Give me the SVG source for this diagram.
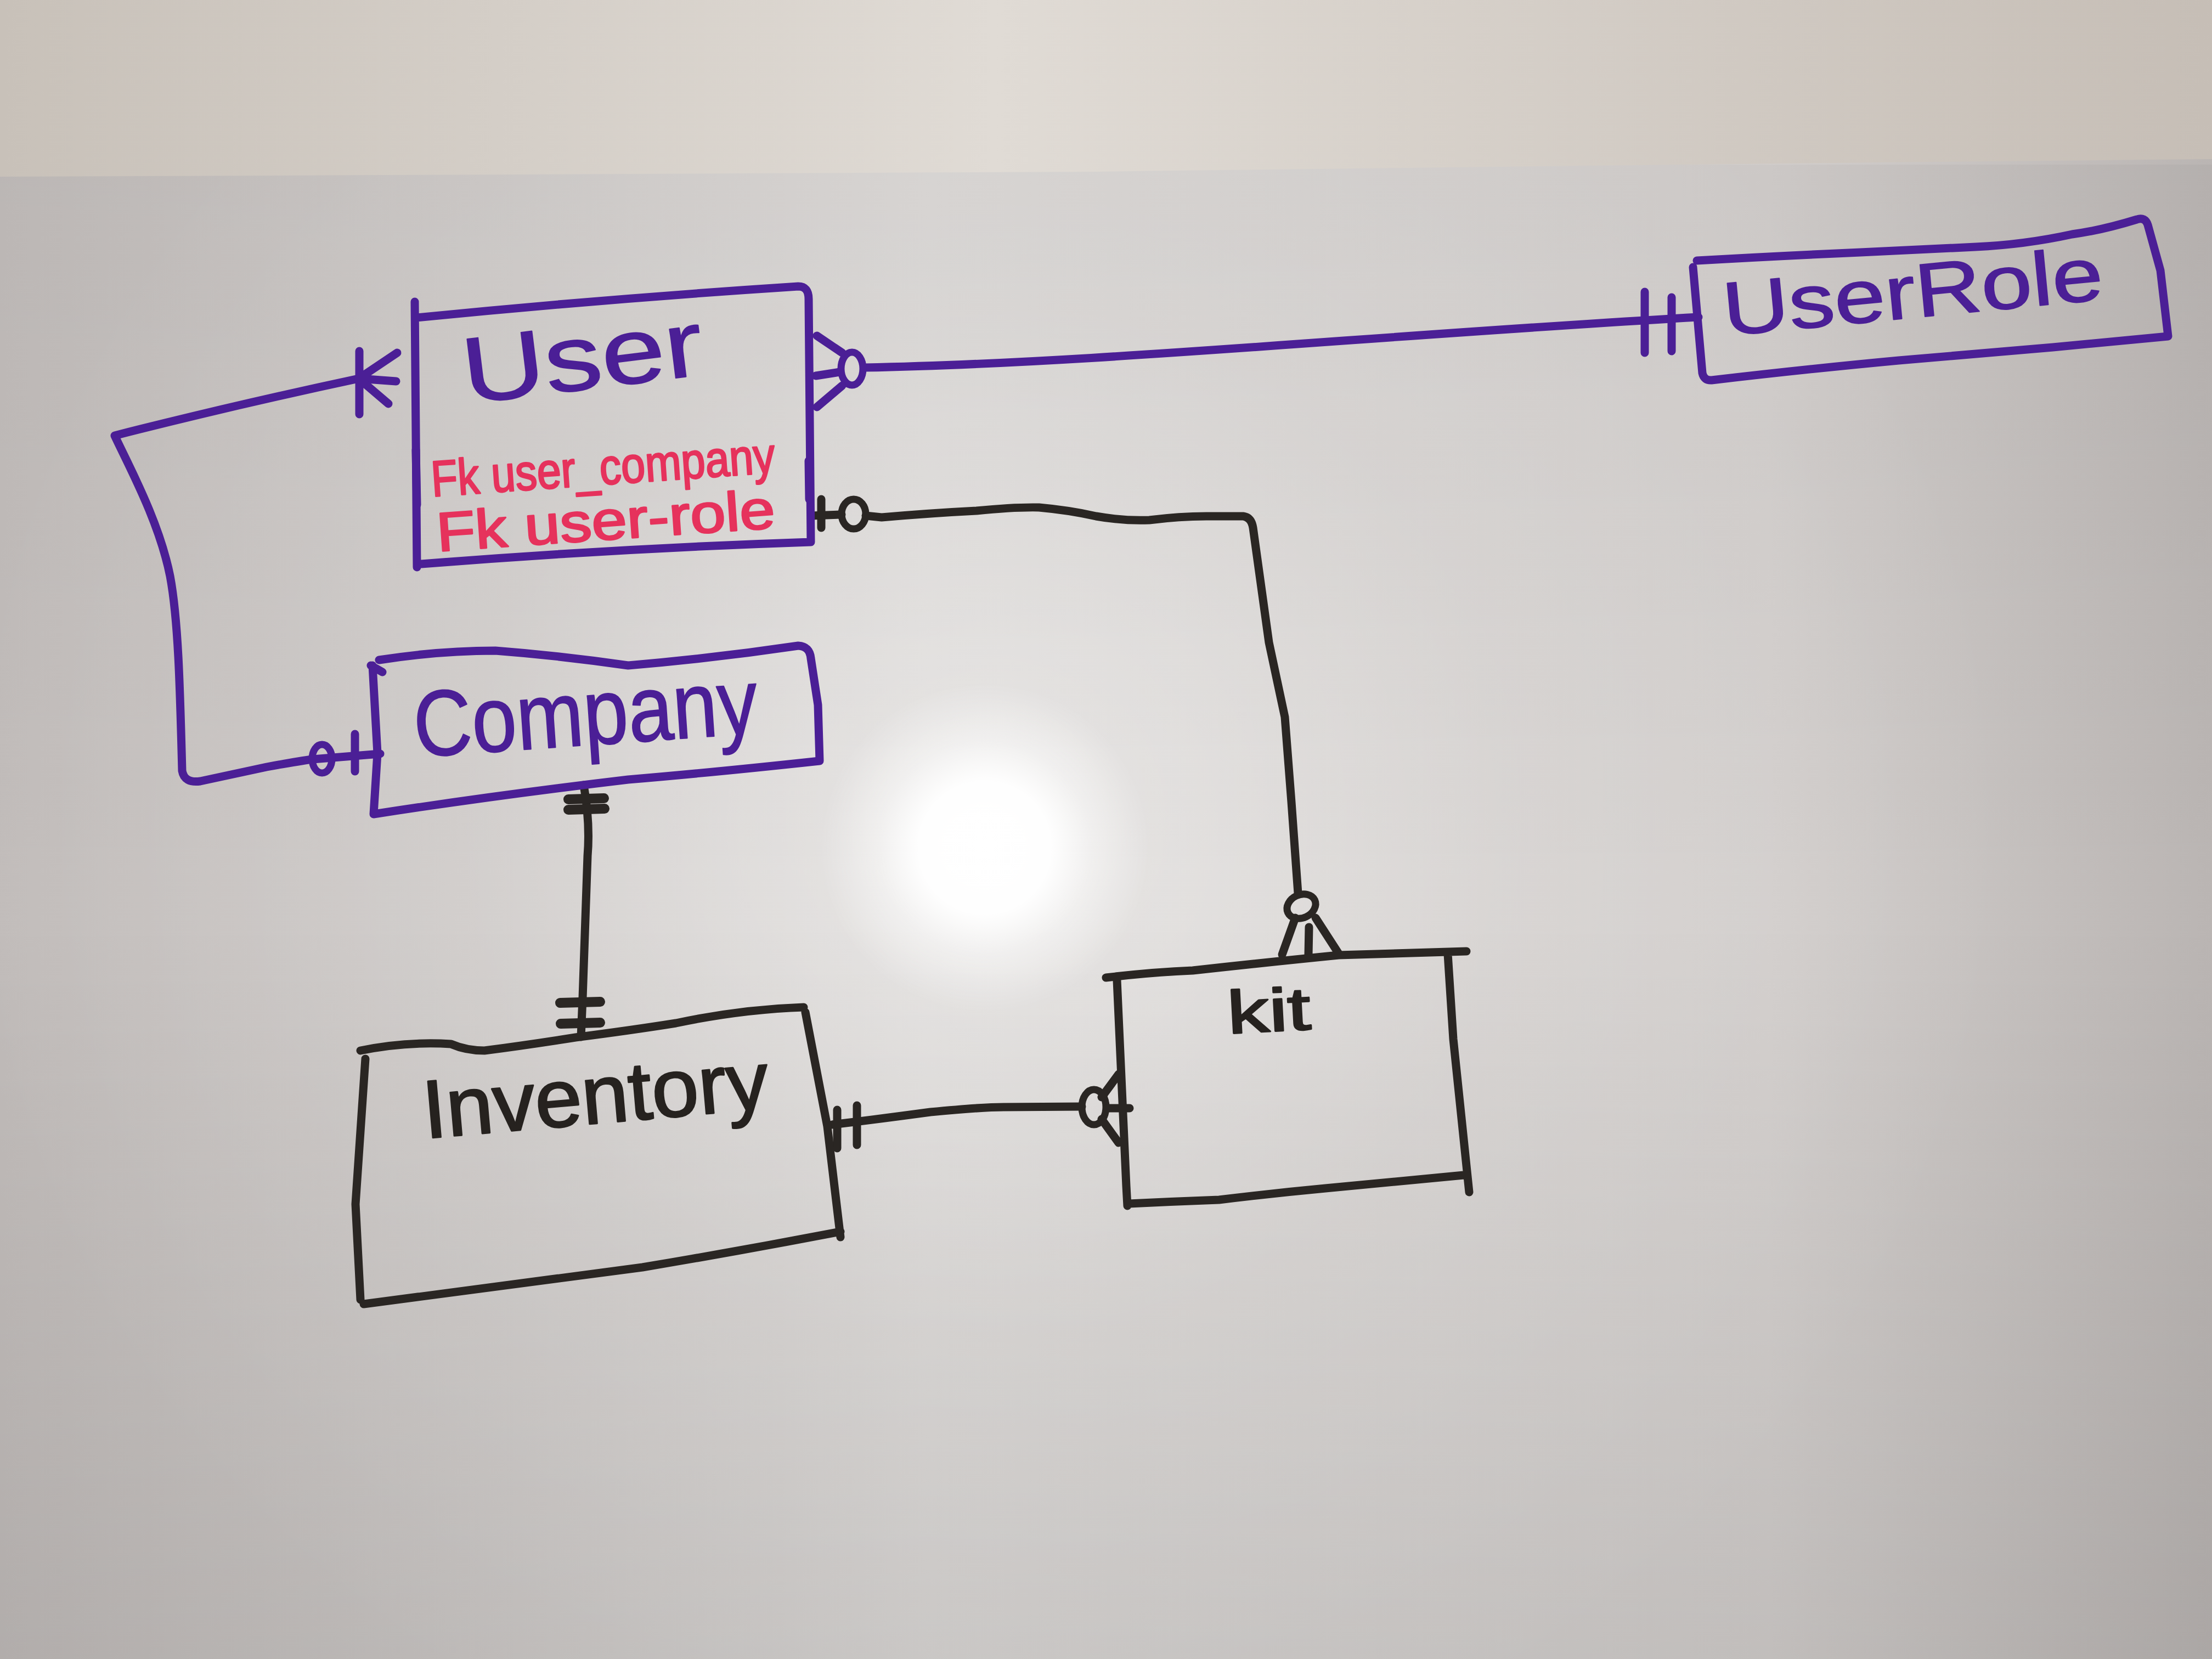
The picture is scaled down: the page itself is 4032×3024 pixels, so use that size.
<svg xmlns="http://www.w3.org/2000/svg" width="4032" height="3024" viewBox="0 0 4032 3024">
<defs>
<style>
.pu{fill:none;stroke:#4b1f96;stroke-width:15;stroke-linecap:round;stroke-linejoin:round}
.bk{fill:none;stroke:#2a2623;stroke-width:15;stroke-linecap:round;stroke-linejoin:round}
.bkt{fill:none;stroke:#2a2623;stroke-width:18;stroke-linecap:round}
.circ{fill:none;stroke-width:13}
.lbl{font-family:"Liberation Sans","DejaVu Sans",Arial,sans-serif;stroke-linejoin:round}
.tp{fill:#4b1f96;stroke:#4b1f96;stroke-width:2}
.tb{fill:#26221f;stroke:#26221f;stroke-width:3}
.tr{fill:#e6325c;stroke:#e6325c;stroke-width:3}
</style>
<linearGradient id="wallH" x1="0" y1="0" x2="1" y2="0">
<stop offset="0" stop-color="#c8c1b9"/>
<stop offset="0.45" stop-color="#e0dbd5"/>
<stop offset="1" stop-color="#c6beb6"/>
</linearGradient>
<linearGradient id="boardH" x1="0" y1="0" x2="1" y2="0">
<stop offset="0" stop-color="#c1bcba"/>
<stop offset="0.42" stop-color="#dad7d5"/>
<stop offset="0.8" stop-color="#d2cecc"/>
<stop offset="1" stop-color="#bab5b3"/>
</linearGradient>
<radialGradient id="boardR" cx="1800" cy="1500" r="1900" gradientUnits="userSpaceOnUse">
<stop offset="0" stop-color="#ffffff" stop-opacity="0.4"/>
<stop offset="0.5" stop-color="#ffffff" stop-opacity="0.1"/>
<stop offset="1" stop-color="#ffffff" stop-opacity="0"/>
</radialGradient>
<linearGradient id="boardV" x1="0" y1="0" x2="0" y2="1">
<stop offset="0" stop-color="#000000" stop-opacity="0.03"/>
<stop offset="0.5" stop-color="#000000" stop-opacity="0"/>
<stop offset="1" stop-color="#000000" stop-opacity="0.08"/>
</linearGradient>
<radialGradient id="glare" cx="1795" cy="1545" r="300" gradientUnits="userSpaceOnUse">
<stop offset="0" stop-color="#ffffff" stop-opacity="1"/>
<stop offset="0.4" stop-color="#ffffff" stop-opacity="0.97"/>
<stop offset="0.65" stop-color="#ffffff" stop-opacity="0.45"/>
<stop offset="1" stop-color="#ffffff" stop-opacity="0"/>
</radialGradient>
</defs>

<g id="background">
<rect x="0" y="0" width="4032" height="3024" fill="url(#boardH)"/>
<rect x="0" y="0" width="4032" height="3024" fill="url(#boardR)"/>
<rect x="0" y="300" width="4032" height="2724" fill="url(#boardV)"/>
<circle cx="1795" cy="1545" r="300" fill="url(#glare)"/>
<path d="M0,0 H4032 V290 Q3000,300 2000,313 Q1000,318 0,322 Z" fill="url(#wallH)"/>
</g>

<g id="connectors">
<g id="c-user-userrole">
<path class="pu" d="M1576,670 C2000,662 2500,612 3096,578"/>
<path class="pu" d="M2998,532 L2998,643 M3047,542 L3047,640"/>
<ellipse class="circ" cx="1553" cy="672" rx="20" ry="30" stroke="#4b1f96"/>
<path class="pu" d="M1489,612 L1535,643 M1487,685 L1531,678 M1489,742 L1535,703"/>
</g>
<g id="c-user-company">
<path class="pu" d="M722,695 L654,690 Q420,740 209,794 C235,850 290,950 310,1050 C325,1130 328,1250 332,1405 Q336,1428 365,1424 Q430,1410 486,1398 Q540,1388 570,1384 L693,1374"/>
<path class="pu" d="M655,640 L655,755 M654,690 L724,643 M654,690 L708,736"/>
<ellipse class="circ" cx="587" cy="1383" rx="18" ry="26" stroke="#4b1f96" stroke-width="15"/>
<path class="pu" d="M647,1338 L647,1406"/>
</g>
<g id="c-company-inventory">
<path class="bk" d="M1064,1431 Q1076,1500 1071,1560 L1062,1819 L1059,1890"/>
<path class="bkt" d="M1036,1457 L1101,1455 M1036,1476 L1102,1474 M1021,1828 L1094,1826 M1022,1866 L1094,1864"/>
</g>
<g id="c-inventory-kit">
<path class="bk" d="M1517,2050 Q1600,2040 1696,2027 Q1790,2018 1829,2018 L1972,2017"/>
<path class="bk" d="M1526,2023 L1526,2093 M1562,2015 L1562,2087"/>
<ellipse class="circ" cx="1994" cy="2018" rx="22" ry="32" stroke="#2a2623"/>
<path class="bk" d="M2008,2000 L2039,1958 M2019,2020 L2059,2020 M2008,2040 L2039,2083"/>
</g>
<g id="c-user-kit">
<path class="bk" d="M1479,940 L1534,938"/>
<path class="bk" d="M1497,910 L1497,962"/>
<ellipse class="circ" cx="1556" cy="937" rx="22" ry="27" stroke="#2a2623"/>
<path class="bk" d="M1578,940 L1607,943 Q1700,935 1780,931 Q1850,924 1894,925 Q1950,930 1998,941 Q2050,950 2095,948 Q2150,941 2199,941 L2266,941 Q2281,943 2284,962 Q2300,1080 2313,1171 Q2330,1250 2342,1307 L2354,1462 L2366,1628"/>
<ellipse class="circ" cx="2372" cy="1652" rx="27" ry="21" stroke="#2a2623" transform="rotate(-25 2372 1652)"/>
<path class="bk" d="M2361,1673 L2337,1740 M2386,1690 L2385,1740 M2398,1673 L2440,1738"/>
</g>
</g>

<g id="node-user">
<path class="pu" d="M756,550 L760,1034 M760,579 Q1100,545 1455,522 Q1474,522 1474,545 L1478,988 Q1120,1000 768,1028"/>
<path class="pu" stroke-width="20" d="M758,820 L760,920 M1474,840 L1475,910"/>
<text class="lbl tp" x="850" y="736" font-size="170" textLength="440" lengthAdjust="spacingAndGlyphs" transform="rotate(-7 850 736)">User</text>
<text class="lbl tr" x="788" y="905" font-size="92" textLength="628" lengthAdjust="spacingAndGlyphs" transform="rotate(-4 788 905)">Fk user_company</text>
<text class="lbl tr" x="798" y="1005" font-size="100" textLength="618" lengthAdjust="spacingAndGlyphs" transform="rotate(-4 798 1005)">Fk user-role</text>
</g>

<g id="node-userrole">
<path class="pu" d="M3086,487 L3103,680 Q3106,694 3120,693 Q3300,672 3461,657 Q3600,645 3742,633 L3952,613 L3938,493 L3915,410 Q3910,395 3895,400 Q3830,420 3777,427 Q3690,446 3601,450 Q3500,455 3391,460 Q3250,466 3093,475"/>
<text class="lbl tp" x="3145" y="612" font-size="138" textLength="695" lengthAdjust="spacingAndGlyphs" transform="rotate(-5.5 3145 612)">UserRole</text>
</g>

<g id="node-company">
<path class="pu" d="M676,1213 L697,1225 M679,1213 L688,1373 L681,1484 Q900,1450 1145,1421 Q1300,1408 1494,1387 L1491,1285 L1478,1200 Q1476,1178 1455,1177 Q1300,1200 1145,1213 Q1020,1195 903,1186 Q800,1186 691,1203"/>
<text class="lbl tp" x="758" y="1380" font-size="170" textLength="628" lengthAdjust="spacingAndGlyphs" transform="rotate(-4 758 1380)">Company</text>
</g>

<g id="node-inventory">
<path class="bk" d="M657,1915 Q740,1898 822,1903 Q850,1915 883,1915 Q960,1905 1049,1891 Q1150,1878 1232,1865 Q1350,1840 1465,1836 M1468,1845 L1508,2053 L1532,2255 M1532,2245 Q1350,2280 1171,2310 L663,2377 M666,1930 L648,2195 L657,2369"/>
<text class="lbl tb" x="775" y="2075" font-size="150" textLength="632" lengthAdjust="spacingAndGlyphs" transform="rotate(-5 775 2075)">Inventory</text>
</g>

<g id="node-kit">
<path class="bk" d="M2016,1782 Q2100,1772 2174,1769 Q2300,1755 2440,1741 L2673,1734 M2036,1787 L2053,2162 L2055,2198 M2058,2194 Q2140,2190 2222,2187 Q2320,2175 2416,2166 L2668,2142 M2639,1739 L2649,1894 L2678,2173"/>
<text class="lbl tb" x="2239" y="1884" font-size="110" textLength="152" lengthAdjust="spacingAndGlyphs" transform="rotate(-3 2239 1884)">kit</text>
</g>
</svg>
